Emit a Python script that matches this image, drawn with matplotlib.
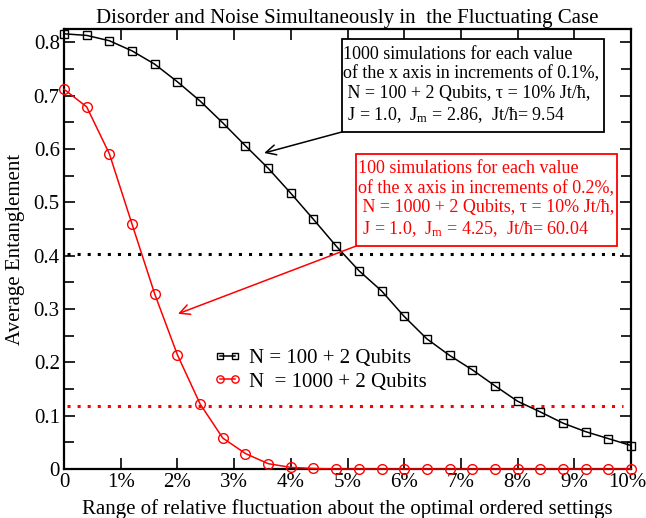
import matplotlib
matplotlib.use("Agg")
import matplotlib.pyplot as plt
import matplotlib.transforms as mtrans
from matplotlib.patches import Rectangle
from matplotlib.ticker import MultipleLocator

plt.rcParams["font.family"] = ["Liberation Serif", "DejaVu Serif"]
plt.rcParams["mathtext.fontset"] = "custom"
plt.rcParams["mathtext.rm"] = "Liberation Serif"
plt.rcParams["mathtext.it"] = "Liberation Serif:italic"

# fluctuation range in %, every 0.4%
x_pct = [0, 0.4, 0.8, 1.2, 1.6, 2.0, 2.4, 2.8, 3.2, 3.6, 4.0, 4.4, 4.8,
         5.2, 5.6, 6.0, 6.4, 6.8, 7.2, 7.6, 8.0, 8.4, 8.8, 9.2, 9.6, 10.0]
ent_100 = [0.816, 0.813, 0.803, 0.784, 0.759, 0.726, 0.690, 0.649, 0.606,
           0.564, 0.517, 0.468, 0.418, 0.372, 0.334, 0.286, 0.244, 0.213,
           0.186, 0.156, 0.127, 0.107, 0.086, 0.070, 0.057, 0.044]
ent_1000 = [0.712, 0.679, 0.591, 0.459, 0.328, 0.214, 0.122, 0.058, 0.029,
            0.010, 0.003, 0.001, 0.0, 0.0, 0.0, 0.0, 0.0, 0.0, 0.0, 0.0,
            0.0, 0.0, 0.0, 0.0, 0.0, 0.0]
level_100 = 0.404
level_1000 = 0.119

xtick_vals = list(range(0, 11))
xtick_labels = ["0"] + [f"{v}%" for v in range(1, 11)]
ytick_vals = [0, 0.1, 0.2, 0.3, 0.4, 0.5, 0.6, 0.7, 0.8]
ytick_labels = ["0", "0.1", "0.2", "0.3", "0.4", "0.5", "0.6", "0.7", "0.8"]

fig = plt.figure(figsize=(6.46, 5.18), dpi=100)
ax = fig.add_axes([0.0991, 0.0946, 0.8777, 0.8494])

ax.axhline(level_100, color="black", lw=2.2, ls=(0, (1, 2.3)), xmin=0.005, xmax=0.985)
ax.axhline(level_1000, color="red", lw=2.2, ls=(0, (1, 2.3)), xmin=0.005, xmax=0.985)

ax.plot(x_pct, ent_100, color="black", lw=1.1, marker="s", ms=6,
        mfc="none", mec="black", mew=1.0, label="N = 100 + 2 Qubits", clip_on=False, zorder=3)
ax.plot(x_pct, ent_1000, color="red", lw=1.1, marker="o", ms=7,
        mfc="none", mec="red", mew=1.0, label="N  = 1000 + 2 Qubits", clip_on=False, zorder=3)

ax.set_xlim(0, 10)
ax.set_ylim(0, 0.825)
ax.set_xticks(xtick_vals)
ax.set_xticklabels(xtick_labels)
ax.set_yticks(ytick_vals)
ax.set_yticklabels(ytick_labels)
ax.yaxis.set_minor_locator(MultipleLocator(0.05))
ax.tick_params(which="both", direction="in", top=True, right=True,
               labelsize=15, width=1.2)
ax.tick_params(which="major", length=8, pad=3)
ax.tick_params(which="minor", length=7)
for s in ax.spines.values():
    s.set_linewidth(1.6)

# keep "10%" inside the figure edge
last = ax.get_xticklabels()[-1]
last.set_transform(last.get_transform() +
                   mtrans.ScaledTranslation(-4 / 100, 0, fig.dpi_scale_trans))

ax.set_title("Disorder and Noise Simultaneously in  the Fluctuating Case",
             fontsize=15, pad=4)
ax.set_xlabel("Range of relative fluctuation about the optimal ordered settings",
              fontsize=15, labelpad=5)
ax.set_ylabel("Average Entanglement", fontsize=15, labelpad=6)

ax.legend(loc="upper left", bbox_to_anchor=(0.264, 0.274), frameon=False,
          fontsize=15, numpoints=2, handlelength=1.3, handletextpad=0.4,
          labelspacing=0.2, borderpad=0, borderaxespad=0, markerscale=0.75)

txt_black = ("1000 simulations for each value\n"
             "of the x axis in increments of 0.1%,\n"
             " N = 100 + 2 Qubits, \u03c4 = 10% Jt/\u0127,\n"
             " J = 1.0,  J$_\\mathrm{m}$ = 2.86,  Jt/\u0127= 9.54")
txt_red = ("100 simulations for each value\n"
           "of the x axis in increments of 0.2%,\n"
           " N = 1000 + 2 Qubits, \u03c4 = 10% Jt/\u0127,\n"
           " J = 1.0,  J$_\\mathrm{m}$ = 4.25,  Jt/\u0127= 60.04")

# annotation frames
ax.add_patch(Rectangle((4.903, 0.632), 4.621, 0.1743, fc="white", ec="black",
                       lw=1.3, zorder=4))
ax.add_patch(Rectangle((5.150, 0.418), 4.603, 0.1725, fc="white", ec="red",
                       lw=1.3, zorder=4))
ax.text(4.92, 0.794, txt_black, fontsize=13, va="top", ha="left",
        linespacing=1.2, color="black", zorder=5)
ax.text(5.19, 0.579, txt_red, fontsize=13, va="top", ha="left",
        linespacing=1.2, color="red", zorder=5)

ax.annotate("", xy=(3.53, 0.5925), xytext=(4.903, 0.632),
            arrowprops=dict(arrowstyle="->", color="black", lw=1.1,
                            mutation_scale=18, shrinkA=0, shrinkB=0))
ax.annotate("", xy=(2.01, 0.291), xytext=(5.15, 0.418),
            arrowprops=dict(arrowstyle="->", color="red", lw=1.1,
                            mutation_scale=18, shrinkA=0, shrinkB=0))

fig.savefig("out.png", dpi=100)
plt.close(fig)
